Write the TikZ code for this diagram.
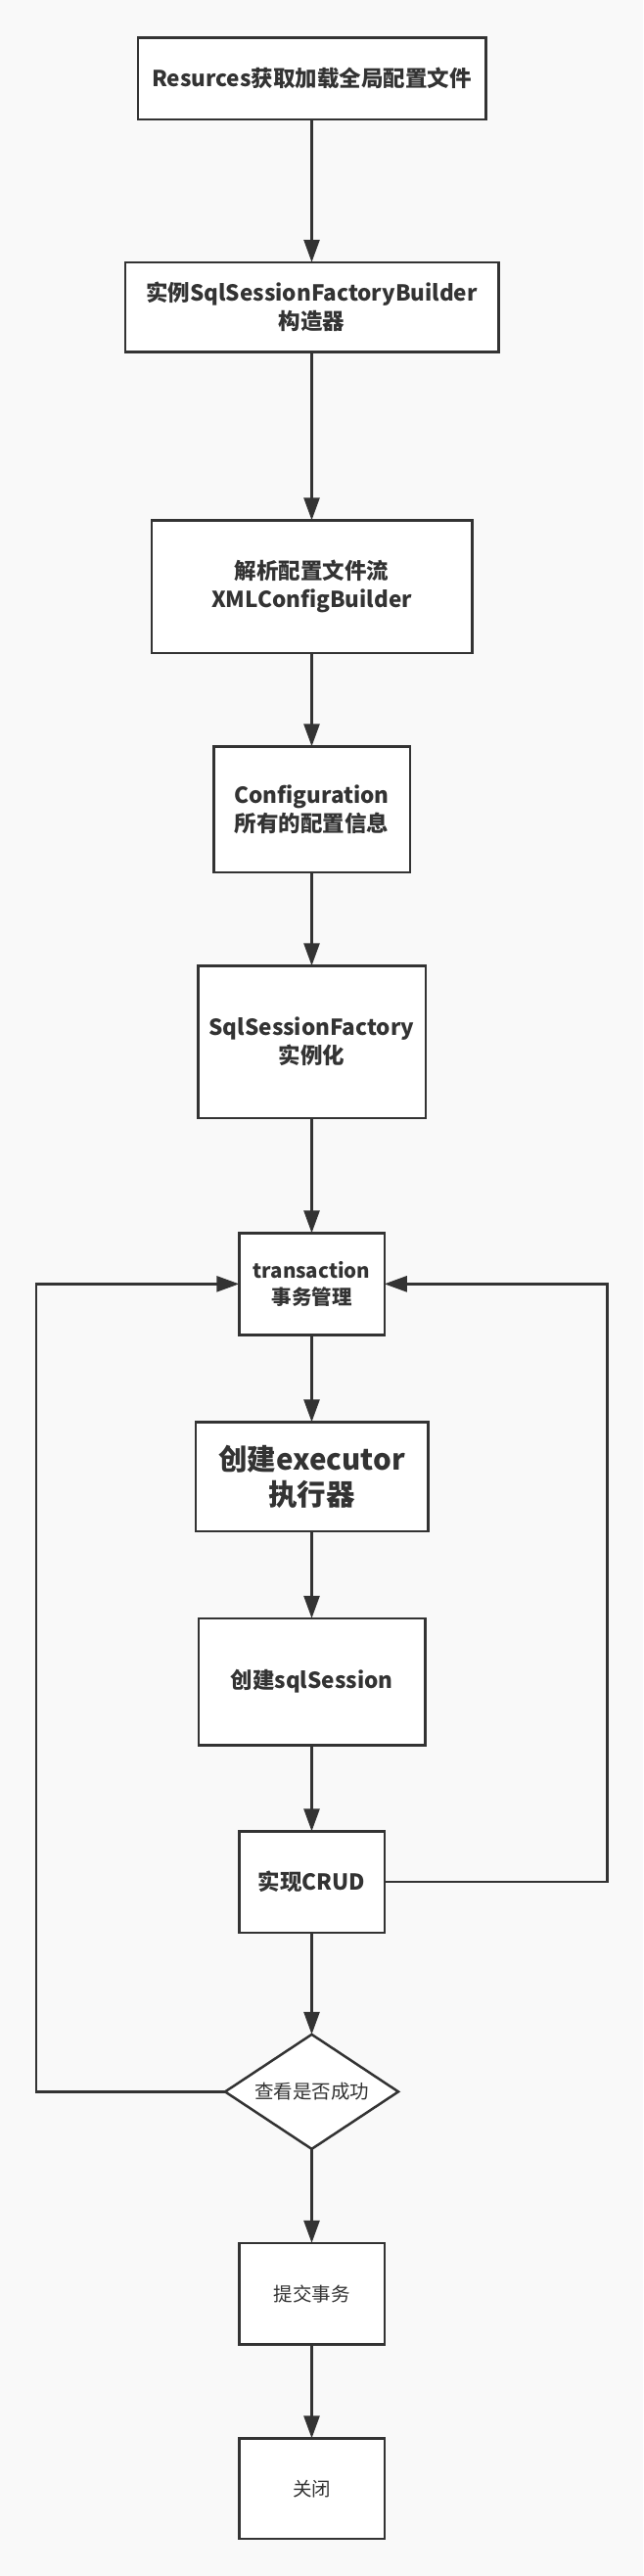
\documentclass[tikz,border=0pt]{standalone}
\usepackage{fontspec}
\setmainfont{Noto Sans CJK SC}
\usepackage{tikz}
\usetikzlibrary{shapes.geometric, arrows.meta, positioning}
\definecolor{ink}{RGB}{51,51,51}
\definecolor{paper}{RGB}{249,249,249}

\begin{document}
\begin{tikzpicture}[
  x=1pt, y=1pt,
  box/.style={rectangle, draw=ink, fill=white, line width=2.5pt, inner sep=0pt, outer sep=0pt,
              align=center, text=ink, font=\bfseries\fontsize{22.5}{29}\selectfont},
  plainbox/.style={box, font=\fontsize{19.5}{26}\selectfont},
  decision/.style={diamond, aspect=1.5, draw=ink, fill=white, line width=2.5pt, inner sep=0pt, outer sep=0pt,
                   minimum width=177pt, minimum height=117pt, align=center, text=ink,
                   font=\fontsize{19.5}{26}\selectfont},
  arrow/.style={-{Triangle[length=23pt, width=16pt]}, line width=2.5pt, draw=ink}
]
  \fill[paper] (0,0) rectangle (657,-2631);
  \useasboundingbox (0,0) rectangle (657,-2631);

  \node[box, minimum width=355.5pt, minimum height=83.5pt] (load) at (318.5,-80.1) {Resurces获取加载全局配置文件};
  \node[box, minimum width=381.5pt, minimum height=91.5pt, below=146pt of load] (builder) {实例SqlSessionFactoryBuilder\\构造器};
  \node[box, minimum width=327.5pt, minimum height=135.5pt, below=172pt of builder] (parse) {解析配置文件流\\XMLConfigBuilder};
  \node[box, minimum width=200.5pt, minimum height=128.5pt, below=95.5pt of parse] (config) {Configuration\\所有的配置信息};
  \node[box, minimum width=232.5pt, minimum height=155.5pt, below=95.5pt of config] (factory) {SqlSessionFactory\\实例化};
  \node[box, minimum width=148.5pt, minimum height=104pt, below=117.5pt of factory,
        font=\bfseries\fontsize{20.5}{27}\selectfont] (tx) {transaction\\事务管理};
  \node[box, minimum width=237.5pt, minimum height=111.5pt, below=89pt of tx,
        font=\bfseries\fontsize{29.5}{36}\selectfont] (exec) {创建executor\\执行器};
  \node[box, minimum width=231.5pt, minimum height=129.5pt, below=89pt of exec] (session) {创建sqlSession};
  \node[box, minimum width=148.5pt, minimum height=103.5pt, below=88pt of session] (crud) {实现CRUD};
  \node[decision, below=104pt of crud] (check) {查看是否成功};
  \node[plainbox, minimum width=148.5pt, minimum height=103.5pt, below=96pt of check] (commit) {提交事务};
  \node[plainbox, minimum width=148.5pt, minimum height=102.5pt, below=96pt of commit] (close) {关闭};

  \draw[arrow] (load) -- (builder);
  \draw[arrow] (builder) -- (parse);
  \draw[arrow] (parse) -- (config);
  \draw[arrow] (config) -- (factory);
  \draw[arrow] (factory) -- (tx);
  \draw[arrow] (tx) -- (exec);
  \draw[arrow] (exec) -- (session);
  \draw[arrow] (session) -- (crud);
  \draw[arrow] (crud) -- (check);
  \draw[arrow] (check) -- (commit);
  \draw[arrow] (commit) -- (close);
  \draw[arrow] (crud.east) -- ++(227.5,0) |- (tx.east);
  \draw[arrow] (check.west) -- ++(-193,0) |- (tx.west);
\end{tikzpicture}
\end{document}
